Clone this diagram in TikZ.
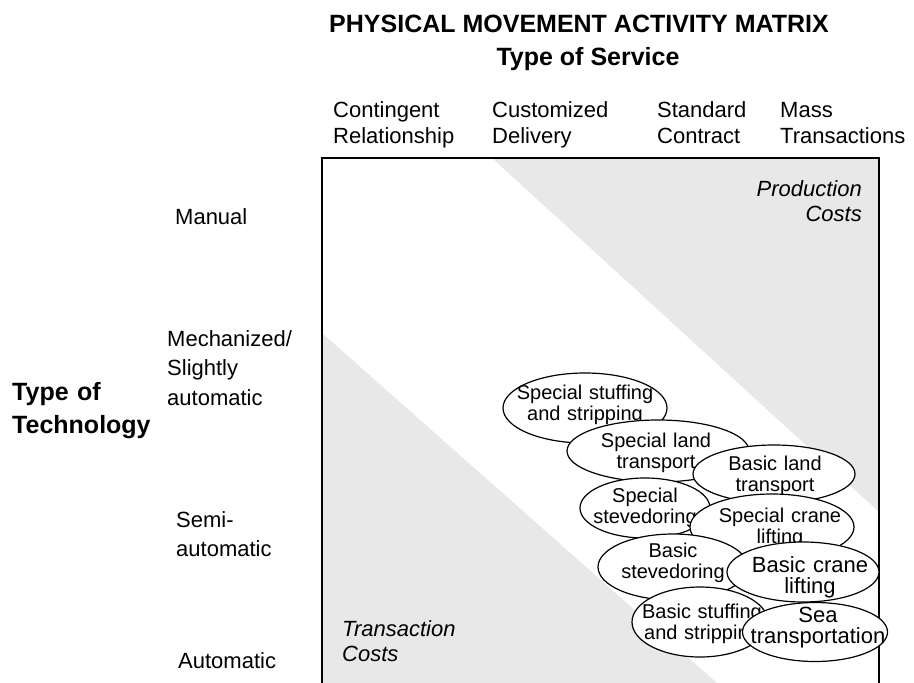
\documentclass[tikz,border=0pt]{standalone}
\usepackage{fontspec}
\setmainfont{Liberation Sans}
\usepackage{tikz}
\usetikzlibrary{shapes.geometric}
\definecolor{costshade}{HTML}{E8E8E8}

\begin{document}
\begin{tikzpicture}
[x=1pt, y=-1pt,
% STYLES
% The heading style is used for the bold titles
heading/.style={inner sep=0pt, font=\bfseries\fontsize{25}{33}\selectfont},
% The service style is used for the names of the columns
service/.style={inner sep=0pt, anchor=base west, text width=130pt, align=left, font=\fontsize{22}{26}\selectfont},
% The technology style is used for the names of the rows
technology/.style={inner sep=0pt, anchor=base west, text width=130pt, align=left, font=\fontsize{22}{29.5}\selectfont},
% The cost style is used for the italic remarks in the corners
cost/.style={inner sep=0pt, text width=130pt, font=\itshape\fontsize{22}{25}\selectfont},
% The activity style is used to draw the ellipses
activity/.style={ellipse, draw, fill=white, line width=1.2pt, inner sep=0pt},
% The caption style is used to write the names inside the ellipses
caption/.style={inner sep=0pt, anchor=base, text width=170pt, align=center, font=\fontsize{20}{21}\selectfont}]

\useasboundingbox (0,0) rectangle (914,683);

% Draw the shaded corners
\fill[costshade] (492,158) -- (879,158) -- (879,512) -- cycle;
\fill[costshade] (322,333) -- (717,683) -- (322,683) -- cycle;

% Draw the frame of the matrix
\draw[line width=1.5pt] (322,683) -- (322,158) -- (879,158) -- (879,683);

% Draw titles
\node [heading, anchor=base] (title) at (579,32) {PHYSICAL MOVEMENT ACTIVITY MATRIX};
\node [heading, anchor=base] (service) at (588,65) {Type of Service};
\node [heading, anchor=base west, text width=150pt, align=left] (technology) at (12,400) {Type of\\Technology};

% Columns
\node [service] (contingent) at (333,117) {Contingent\\Relationship};
\node [service] (customized) at (492,117) {Customized\\Delivery};
\node [service] (standard) at (657,117) {Standard\\Contract};
\node [service] (mass) at (780,117) {Mass\\Transactions};

% Rows
\node [technology] (manual) at (175,224) {Manual};
\node [technology] (mechanized) at (167,346) {Mechanized/\\Slightly\\automatic};
\node [technology] (semi) at (176,527) {Semi-\\automatic};
\node [technology] (automatic) at (178,668) {Automatic};

% Corners
\node [cost, anchor=base east, align=right] (production) at (862,196) {Production\\Costs};
\node [cost, anchor=base west, align=left] (transaction) at (342,636) {Transaction\\Costs};

%%%%%%%%%%%%%%%
% Activities, from top to bottom

% special stuffing
\node [activity, minimum width=164pt, minimum height=70pt] (sstuff) at (585,408) {};
\node [caption] (sstuff-text) at (585,399) {Special stuffing\\and stripping};

% special land
\node [activity, minimum width=182pt, minimum height=62pt] (sland) at (658,451) {};
\node [caption] (sland-text) at (656,447) {Special land\\transport};

% basic land
\node [activity, minimum width=162pt, minimum height=58pt] (bland) at (774,474) {};
\node [caption] (bland-text) at (775,470) {Basic land\\transport};

% special stevedoring
\node [activity, minimum width=130pt, minimum height=60pt] (ssteve) at (645,508) {};
\node [caption] (ssteve-text) at (645,502) {Special\\stevedoring};

% special crane
\node [activity, minimum width=164pt, minimum height=66pt] (scrane) at (772,527) {};
\node [caption] (scrane-text) at (780,522) {Special crane\\lifting};

% basic stevedoring
\node [activity, minimum width=150pt, minimum height=66pt] (bsteve) at (673,567) {};
\node [caption] (bsteve-text) at (673,557) {Basic\\stevedoring};

% basic crane
\node [activity, minimum width=152pt, minimum height=60pt] (bcrane) at (803,572) {};
\node [caption, font=\fontsize{22}{21}\selectfont] (bcrane-text) at (810,572) {Basic crane\\lifting};

% basic stuffing
\node [activity, minimum width=136pt, minimum height=70pt] (bstuff) at (700,622) {};
\node [caption] (bstuff-text) at (702,618) {Basic stuffing\\and stripping};

% sea
\node [activity, minimum width=145pt, minimum height=59pt] (sea) at (815,632) {};
\node [caption, font=\fontsize{22}{21}\selectfont] (sea-text) at (818,622) {Sea\\transportation};
%%%%%%%%%%%%%%%

\end{tikzpicture}
\end{document}
